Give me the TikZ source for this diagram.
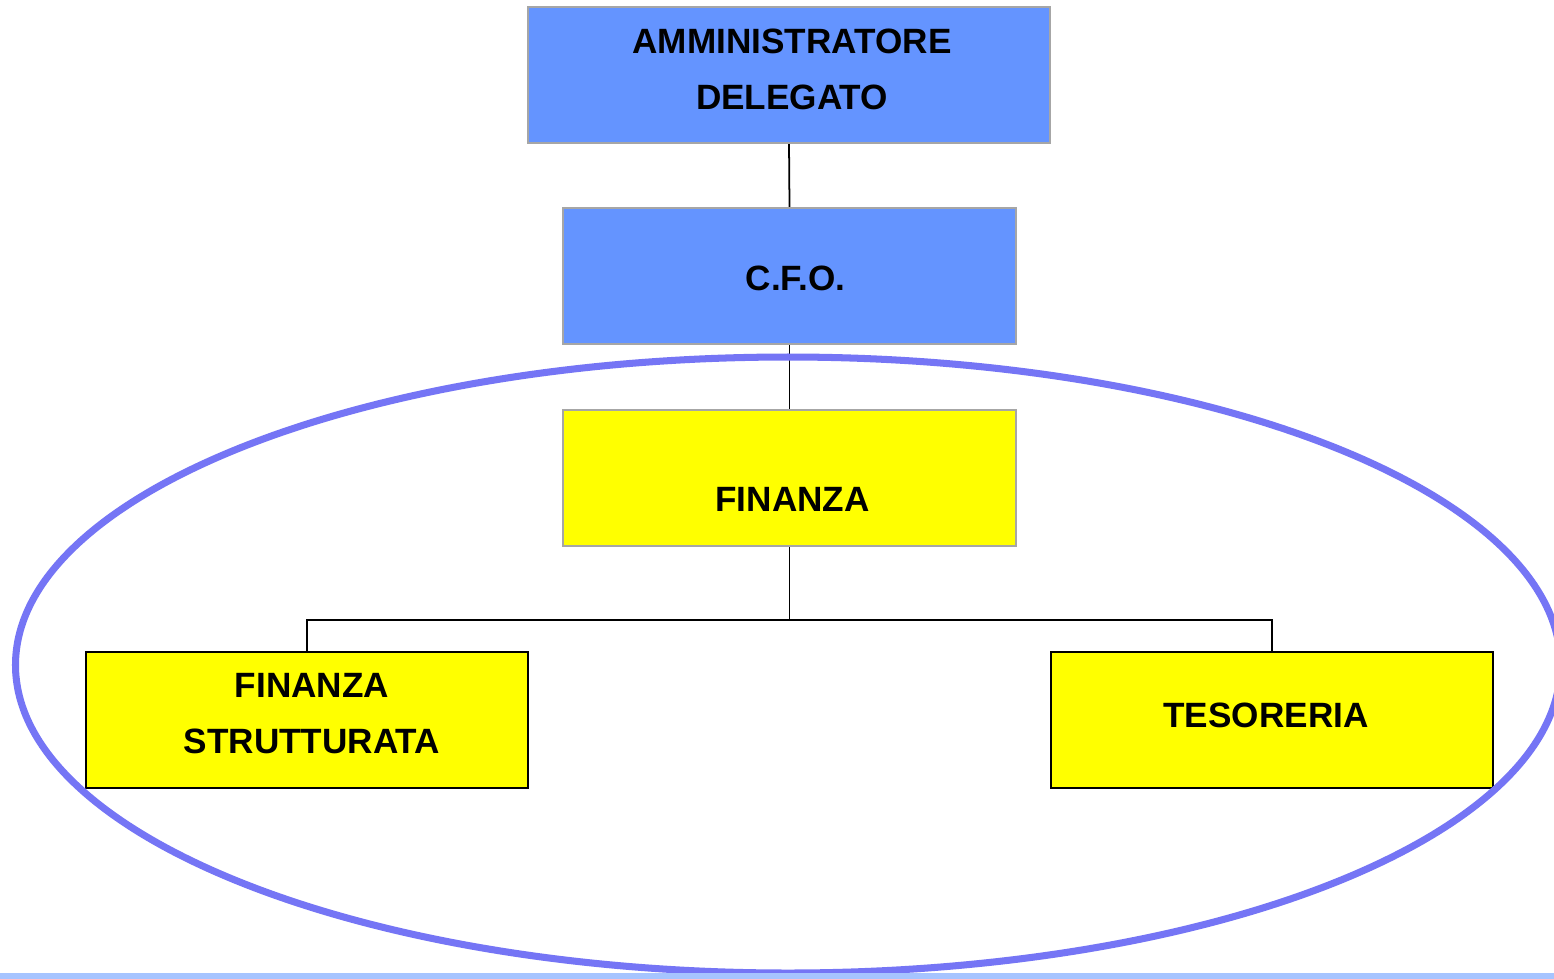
\documentclass[tikz,border=0pt]{standalone}
\usepackage{fontspec}
\setmainfont{Liberation Sans}
\usetikzlibrary{calc}
\definecolor{capoblu}{RGB}{100,148,255}
\definecolor{giallo}{RGB}{255,255,0}
\definecolor{ovale}{RGB}{117,117,245}
\definecolor{filo}{RGB}{166,196,255}
\tikzstyle{txt} = [font=\fontsize{10}{15.9}\selectfont\bfseries,align=center]
\tikzstyle{box} = [draw,line width=0.6pt,minimum height=1.36cm,inner sep=0pt]
\tikzstyle{bluebox} = [box,draw=gray!70,fill=capoblu,minimum width=4.53cm]
\tikzstyle{yelbox} = [box,draw=gray!70,fill=giallo,minimum width=4.53cm]
\tikzstyle{subbox} = [box,draw=black,fill=giallo,minimum width=4.42cm]
\tikzstyle{link} = [line width=0.5pt]

\begin{document}
\begin{tikzpicture}
\useasboundingbox (0,0) rectangle (15.54,-9.78);
\fill[white] (0,0) rectangle (15.54,-9.78);
% boxes
\node[bluebox,minimum width=5.22cm,label={[txt,xshift=0.03cm,yshift=0.06cm]center:AMMINISTRATORE\\DELEGATO}] (ad) at (7.89,-0.75) {};
\node[bluebox,label={[txt,xshift=0.06cm,yshift=-0.02cm]center:C.F.O.}] (cfo) at (7.895,-2.76) {};
\node[yelbox,label={[txt,xshift=0.03cm,yshift=-0.21cm]center:FINANZA}] (fin) at (7.895,-4.78) {};
\node[subbox,label={[txt,xshift=0.05cm,yshift=0.06cm]center:FINANZA\\STRUTTURATA}] (fs) at (3.07,-7.20) {};
\node[subbox,label={[txt,xshift=-0.06cm,yshift=0.05cm]center:TESORERIA}] (tes) at (12.72,-7.20) {};
% connectors
\coordinate (split) at ($(fin.south)+(0,-0.73)$);
\draw[link] (ad.south) -- (cfo.north);
\draw[link] (cfo.south) -- (fin.north);
\draw[link] (fin.south) -- (split) -| (fs.north);
\draw[link] (split) -| (tes.north);
% oval round the finance area
\draw[ovale,line width=2pt] (7.88,-6.65) ellipse (7.725 and 3.08);
\draw[filo,line width=0.06cm] (0,-9.76) -- (15.54,-9.76);
\end{tikzpicture}
\end{document}
